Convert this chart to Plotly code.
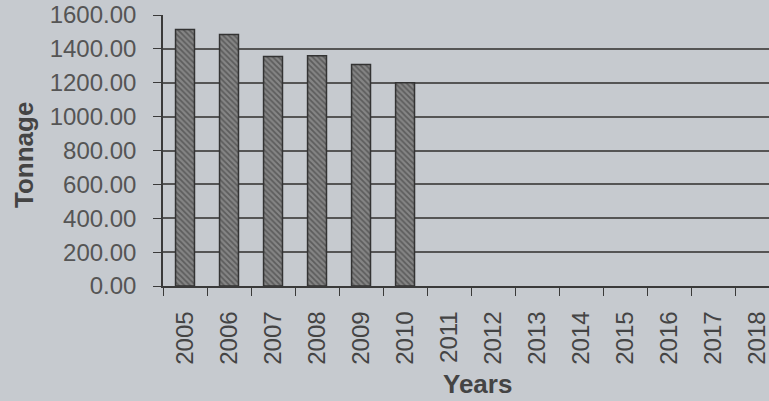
import plotly.graph_objects as go

years = [str(y) for y in range(2005, 2019)]
tonnage = [1515, 1485, 1355, 1360, 1308, 1200, None, None, None, None, None, None, None, None]
y_ticks = [0, 200, 400, 600, 800, 1000, 1200, 1400, 1600]

BG = "#c6cacf"
INK = "#4a4a4a"

fig = go.Figure()
fig.add_trace(go.Bar(
    x=years, y=tonnage, width=0.43,
    marker=dict(color="#7a7a7a",
                line=dict(color="#333333", width=1.5),
                pattern=dict(shape="\\", fgcolor="#333333", bgcolor="#858585", size=4, solidity=0.45)),
    showlegend=False,
))

fig.update_layout(
    width=769, height=401,
    margin=dict(l=163, r=0, t=15, b=115),
    paper_bgcolor=BG, plot_bgcolor=BG,
    font=dict(family="Liberation Sans, Arial, sans-serif", color=INK),
    annotations=[
        dict(text="<b>Years</b>", x=477, y=384, xref="paper", yref="paper", showarrow=False,
             font=dict(size=26, color="#444444")),
        dict(text="<b>Tonnage</b>", x=24, y=155, xref="paper", yref="paper", showarrow=False,
             textangle=-90, font=dict(size=26, color="#444444")),
    ],
)
# convert annotation pixel positions to paper fractions
pw, ph = 769 - 163, 401 - 15 - 115
for a in fig.layout.annotations:
    a.x = (a.x - 163) / pw
    a.y = (401 - 115 - a.y) / ph
    a.xanchor = "center"
    a.yanchor = "middle"

fig.update_xaxes(
    type="category", categoryorder="array", categoryarray=years,
    range=[-0.5, 13.27],
    tickangle=-90, tickfont=dict(size=24, color="#444444"),
    showline=True, linecolor="#3a3a3a", linewidth=1.5,
    ticks="outside", tickson="boundaries", ticklen=8, tickcolor="#3a3a3a", tickwidth=1.2,
    showgrid=False, ticklabelstandoff=14,
)
fig.update_yaxes(
    range=[0, 1600], tickvals=y_ticks, tickformat=".2f",
    tickfont=dict(size=24, color="#555555"),
    showline=True, linecolor="#3a3a3a", linewidth=1.5,
    ticks="outside", ticklen=8, tickcolor="#3a3a3a", tickwidth=1.2,
    showgrid=True, gridcolor="#555555", gridwidth=1.5,
    zeroline=False, ticklabelstandoff=12,
)

fig.write_html("out.html")
